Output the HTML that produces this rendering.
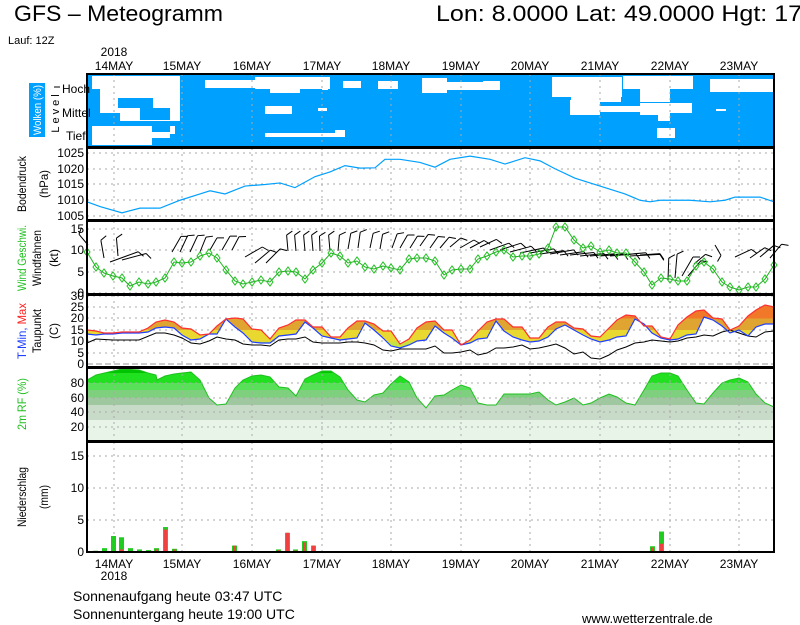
<!DOCTYPE html>
<html><head><meta charset="utf-8"><style>
html,body{margin:0;padding:0;background:#fff;width:800px;height:625px;overflow:hidden}
svg{display:block;font-family:"Liberation Sans",sans-serif}
</style></head><body>
<svg id="s" width="800" height="625" viewBox="0 0 800 625" xmlns="http://www.w3.org/2000/svg">
<defs>
<linearGradient id="tg" gradientUnits="userSpaceOnUse" x1="0" y1="296" x2="0" y2="364">
<stop offset="0" stop-color="#f07828"/><stop offset="0.33" stop-color="#f07828"/>
<stop offset="0.33" stop-color="#e0a430"/><stop offset="0.5" stop-color="#e0a430"/>
<stop offset="0.5" stop-color="#e8d830"/><stop offset="0.67" stop-color="#e8d830"/>
<stop offset="0.67" stop-color="#c8e040"/><stop offset="1" stop-color="#c8e040"/>
</linearGradient>
<linearGradient id="rg" gradientUnits="userSpaceOnUse" x1="0" y1="368" x2="0" y2="442">
<stop offset="0" stop-color="#00c400"/><stop offset="0.07" stop-color="#00c400"/>
<stop offset="0.07" stop-color="#20e020"/><stop offset="0.2" stop-color="#20e020"/>
<stop offset="0.2" stop-color="#58e058"/><stop offset="0.3" stop-color="#58e058"/>
<stop offset="0.3" stop-color="#7ed07e"/><stop offset="0.4" stop-color="#7ed07e"/>
<stop offset="0.4" stop-color="#a0c8a0"/><stop offset="0.5" stop-color="#a0c8a0"/>
<stop offset="0.5" stop-color="#c8dac8"/><stop offset="0.7" stop-color="#c8dac8"/>
<stop offset="0.7" stop-color="#e8f4e8"/><stop offset="1" stop-color="#e8f4e8"/>
</linearGradient>
</defs>
<text x="14" y="21" font-size="22" textLength="209" lengthAdjust="spacingAndGlyphs">GFS – Meteogramm</text>
<text x="436" y="21" font-size="22" textLength="380" lengthAdjust="spacingAndGlyphs">Lon: 8.0000 Lat: 49.0000 Hgt: 175</text>
<text x="8" y="44" font-size="11">Lauf: 12Z</text>
<g id="g"></g>
</svg>
<script>
const NS="http://www.w3.org/2000/svg",G=document.getElementById("g");
function el(t,a,txt){const e=document.createElementNS(NS,t);for(const k in a)e.setAttribute(k,a[k]);if(txt!==undefined)e.textContent=txt;G.appendChild(e);return e;}
const L=87,R=774;
const days=[[114,"14MAY"],[182,"15MAY"],[252,"16MAY"],[322,"17MAY"],[391,"18MAY"],[461,"19MAY"],[530,"20MAY"],[600,"21MAY"],[670,"22MAY"],[739,"23MAY"]];
el("rect",{x:L,y:74,width:R-L,height:73,fill:"#00a0ff"});
const cw=[[92,76,8,13],[100,76,80,45],[92,126,60,19],[152,132,18,6],[170,126,5,8],[205,80,60,8],[255,77,75,12],[270,89,30,4],[322,77,6,13],[265,106,27,8],[318,108,9,3],[265,133,70,4],[335,130,10,7],[343,81,18,7],[378,81,20,8],[422,78,25,15],[445,82,55,8],[483,81,17,8],[552,77,70,20],[571,96,50,6],[623,76,70,13],[640,88,30,14],[657,77,35,12],[570,100,30,15],[600,106,50,6],[640,103,30,12],[660,103,32,10],[658,114,12,7],[657,128,18,10],[710,79,63,13],[716,109,10,2]];
cw.forEach(r=>el("rect",{x:r[0],y:r[1],width:r[2],height:r[3],fill:"#fff"}));
[[118,98,35,10],[140,108,30,12],[100,113,20,8]].forEach(r=>el("rect",{x:r[0],y:r[1],width:r[2],height:r[3],fill:"#00a0ff"}));
function pts(a){return a.map(p=>p[0]+","+p[1]).join(" ");}
function hgrid(ys){ys.forEach(y=>el("line",{x1:L,x2:R,y1:y,y2:y,stroke:"#aaa","stroke-dasharray":"2,4"}));}
function vgrid(y1,y2){days.forEach(d=>el("line",{x1:d[0],x2:d[0],y1:y1,y2:y2,stroke:"#aaa","stroke-dasharray":"2,4"}));}
vgrid(74,147);
hgrid([153,169,184,200,216]);vgrid(148,220);
const P=[[87,1009.5],[100,1008],[122,1006],[140,1007.5],[160,1007.5],[180,1010],[200,1012],[210,1013],[225,1012],[245,1014.5],[265,1015],[280,1015.5],[295,1014],[315,1017.5],[330,1019],[345,1021],[360,1020.2],[375,1020.3],[385,1023],[400,1023],[420,1022],[435,1020.5],[450,1023],[470,1024],[490,1023],[505,1021.5],[525,1023.5],[540,1022.5],[555,1020],[575,1017],[600,1014.5],[625,1012],[640,1010],[650,1009.5],[660,1010],[690,1010],[710,1009.5],[725,1010],[735,1011],[760,1011],[774,1009.5]];
el("polyline",{points:pts(P.map(p=>[p[0],153+(1025-p[1])*3.15])),fill:"none",stroke:"#00a0ff","stroke-width":1.2});
hgrid([229,250,272,293]);vgrid(221,294);
const W=[[87,252],[96,267],[104,273],[113,276],[122,278],[130,286],[139,282],[148,284],[156,282],[165,278],[174,262],[182,263],[191,262],[200,256],[209,253],[217,258],[226,270],[235,281],[243,284],[252,282],[261,280],[270,282],[279,272],[288,271],[296,272],[305,279],[313,270],[322,263],[331,253],[340,256],[348,263],[357,261],[365,267],[374,269],[383,266],[391,268],[400,270],[409,259],[417,258],[426,258],[435,261],[444,275],[452,270],[461,269],[470,269],[478,259],[487,256],[496,252],[504,250],[513,257],[522,256],[530,256],[539,254],[548,248],[556,227],[565,227],[574,240],[583,248],[591,246],[600,252],[609,250],[617,253],[626,253],[635,262],[644,272],[652,285],[661,278],[670,279],[678,281],[687,281],[696,266],[704,262],[713,269],[722,282],[730,287],[739,290],[748,287],[756,287],[765,279],[774,265]];
function barb(x,y,ang,len){const a=ang*Math.PI/180,tx=x+Math.cos(a)*len,ty=y-Math.sin(a)*len;
 let d=`M${x},${y}L${tx},${ty}`;const fa=a-Math.PI/3;d+=`M${tx},${ty}L${tx+Math.cos(fa)*7},${ty-Math.sin(fa)*7}`;
 el("path",{d:d,stroke:"#000",fill:"none","stroke-width":1});}
const B=[[88,245,130,14],[104,258,100,18],[118,256,95,18],[110,262,20,30],[122,260,15,25],[172,252,60,18],[180,252,65,18],[190,252,65,18],[200,252,68,16],[210,250,60,14],[222,250,60,16],[232,250,62,15],[245,257,30,20],[255,263,40,20],[266,263,45,20],[288,251,95,16],[296,251,95,16],[305,251,95,16],[313,251,95,16],[320,251,92,15],[330,251,95,16],[338,251,85,16],[348,249,80,16],[358,248,82,16],[370,248,78,15],[380,249,80,15],[392,248,70,15],[400,248,60,15],[410,248,58,14],[420,246,55,14],[430,248,55,14],[440,248,50,14],[450,247,40,14],[460,248,30,16],[470,248,28,16],[480,247,25,18],[490,250,20,20],[500,250,18,22],[510,252,15,22],[520,253,12,24],[530,253,10,24],[540,254,8,24],[550,254,10,24],[560,255,8,24],[570,255,6,24],[580,256,6,24],[590,256,5,24],[600,256,5,24],[610,256,5,26],[620,255,5,26],[630,256,3,30],[640,255,4,20],[668,280,88,22],[675,278,85,24],[682,276,60,22],[688,276,50,20],[694,264,40,15],[715,245,-60,12],[735,257,25,18],[750,258,35,18],[760,257,40,18],[770,258,50,18]];
B.forEach(b=>barb(b[0],b[1],b[2],b[3]));
el("polyline",{points:pts(W),fill:"none",stroke:"#20b020","stroke-width":1});
W.forEach(p=>el("path",{d:`M${p[0]-3},${p[1]}L${p[0]},${p[1]-4}L${p[0]+3},${p[1]}L${p[0]},${p[1]+4}Z`,fill:"none",stroke:"#20c020","stroke-width":1}));
hgrid([296,307,318,330,341,353]);vgrid(295,367);
el("line",{x1:L,x2:R,y1:364,y2:364,stroke:"#999","stroke-dasharray":"6,3"});
const TR=[[87,330],[96,331],[104,333],[113,333],[122,332],[139,332],[148,328],[156,322],[165,320],[174,322],[182,328],[191,329],[200,335],[209,334],[217,326],[226,319],[235,318],[243,319],[252,329],[261,330],[270,339],[279,328],[288,325],[296,320],[305,320],[313,327],[322,327],[331,337],[340,337],[348,328],[357,321],[365,321],[374,324],[383,331],[391,331],[400,344],[409,339],[417,328],[426,322],[435,321],[444,330],[452,330],[461,345],[470,340],[478,331],[487,322],[496,319],[504,319],[513,327],[522,327],[530,338],[539,338],[548,327],[556,322],[565,322],[574,328],[583,329],[591,336],[600,337],[609,328],[617,320],[626,315],[635,316],[644,326],[652,326],[661,337],[670,339],[678,325],[687,317],[696,311],[704,310],[713,318],[722,319],[730,330],[739,326],[748,316],[756,310],[765,305],[774,307]];
const TB=[[87,334],[96,335],[104,334],[113,334],[122,333],[139,333],[148,332],[156,328],[165,327],[174,328],[182,335],[191,340],[200,339],[209,334],[217,334],[226,319],[235,327],[243,333],[252,342],[261,343],[270,343],[279,336],[288,335],[296,334],[305,322],[313,328],[322,336],[331,338],[340,340],[348,339],[357,338],[365,323],[374,330],[383,338],[391,346],[400,348],[409,345],[417,341],[426,340],[435,326],[444,333],[452,338],[461,345],[470,343],[478,339],[487,338],[496,321],[504,331],[513,337],[522,340],[530,342],[539,341],[548,337],[556,329],[565,325],[574,330],[583,335],[591,339],[600,342],[609,340],[617,337],[626,336],[635,319],[644,324],[652,333],[661,338],[670,340],[678,339],[687,335],[696,334],[704,317],[713,320],[722,326],[730,333],[739,330],[748,336],[756,327],[765,324],[774,324]];
const TD=[[87,343],[96,339],[113,340],[139,340],[156,333],[165,333],[174,335],[182,338],[191,343],[200,344],[209,341],[217,337],[226,339],[235,340],[243,344],[252,345],[261,345],[270,346],[279,340],[288,339],[296,339],[305,337],[313,342],[322,343],[331,343],[340,343],[348,342],[357,342],[365,343],[374,345],[383,350],[391,351],[400,349],[426,349],[435,346],[444,353],[452,353],[461,352],[470,350],[478,355],[487,353],[496,348],[504,348],[513,347],[522,345],[530,349],[539,348],[548,346],[556,344],[565,348],[574,354],[583,352],[591,358],[600,359],[609,355],[617,350],[626,347],[635,343],[644,342],[652,340],[661,341],[670,342],[678,341],[687,338],[696,337],[704,335],[713,336],[722,332],[730,330],[739,333],[748,336],[756,337],[765,332],[774,331]];
el("polygon",{points:pts(TR.concat(TB.slice().reverse())),fill:"url(#tg)"});
el("polyline",{points:pts(TD),fill:"none",stroke:"#000","stroke-width":1});
el("polyline",{points:pts(TB),fill:"none",stroke:"#2040ff","stroke-width":1.2});
el("polyline",{points:pts(TR),fill:"none",stroke:"#ff3030","stroke-width":1.2});
const RH=[[87,380],[96,375],[113,371],[122,369],[139,370],[148,373],[156,375],[157,380],[165,376],[174,374],[182,373],[191,372],[200,380],[209,398],[217,405],[226,404],[235,388],[243,380],[252,376],[261,375],[270,377],[279,387],[288,388],[296,396],[305,379],[313,375],[322,371],[331,371],[340,377],[348,390],[357,400],[365,402],[374,395],[383,393],[391,384],[400,376],[409,382],[417,398],[426,408],[435,396],[444,395],[452,390],[461,385],[470,388],[478,403],[487,405],[496,405],[504,394],[513,394],[522,394],[530,394],[539,392],[548,400],[556,405],[565,402],[574,398],[583,405],[591,403],[600,398],[609,394],[617,397],[626,403],[635,405],[644,390],[652,376],[661,373],[670,373],[678,376],[687,390],[696,403],[704,404],[713,393],[722,383],[730,380],[739,378],[748,382],[756,394],[765,403],[774,407]];
el("polygon",{points:pts([[87,441]].concat(RH,[[774,441]])),fill:"url(#rg)"});
el("polyline",{points:pts(RH),fill:"none",stroke:"#20c020","stroke-width":1});
hgrid([383,398,412,427]);vgrid(368,441);
hgrid([456,488,520]);vgrid(442,552);
const PR=[[93,0.2,0],[102,0.6,0],[111,2.5,0],[119,2.3,0.4],[128,0.6,0],[137,0.4,0],[146,0.3,0],[154,0.6,0.4],[163,3.9,3.5],[172,0.5,0.4],[232,1.0,1.0],[276,0.4,0.3],[285,3.0,3.0],[293,0.4,0.2],[302,1.7,1.5],[311,1.0,1.0],[650,0.9,0.7],[659,3.2,1.3]];
PR.forEach(p=>{el("rect",{x:p[0],y:552-p[1]*6.4,width:5,height:p[1]*6.4,fill:"#20cc20"});if(p[2])el("rect",{x:p[0]+1,y:552-p[2]*6.4,width:3,height:p[2]*6.4,fill:"#f04040"});});
[[74,147],[148,220],[221,294],[295,367],[368,441],[442,552]].forEach(f=>el("rect",{x:L,y:f[0],width:R-L,height:f[1]-f[0],fill:"none",stroke:"#000","stroke-width":2}));
function yl(x,y,t,c){el("text",{x:x,y:y+4,"font-size":12,"text-anchor":"end",fill:c||"#000"},t);}
[[153,"1025"],[169,"1020"],[184,"1015"],[200,"1010"],[216,"1005"]].forEach(a=>yl(84,a[0],a[1]));
[[229,"15"],[250,"10"],[272,"5"],[293,"0"]].forEach(a=>yl(84,a[0],a[1]));
[[296,"30"],[307,"25"],[318,"20"],[330,"15"],[341,"10"],[353,"5"],[364,"0"]].forEach(a=>yl(84,a[0],a[1]));
[[383,"80"],[398,"60"],[412,"40"],[427,"20"]].forEach(a=>yl(84,a[0],a[1]));
[[456,"15"],[488,"10"],[520,"5"],[552,"0"]].forEach(a=>yl(84,a[0],a[1]));
el("text",{x:62,y:93,"font-size":12},"Hoch");el("text",{x:62,y:117,"font-size":12},"Mittel");el("text",{x:66,y:140,"font-size":12},"Tief");
el("line",{x1:54,x2:60,y1:87,y2:87,stroke:"#000"});
function rl(x,y,t,c,fs,tl){const a={x:0,y:0,"font-size":fs||12,"text-anchor":"middle",fill:c||"#000",transform:`translate(${x},${y}) rotate(-90)`};if(tl){a.textLength=tl;a.lengthAdjust="spacingAndGlyphs";}return el("text",a,t);}
el("rect",{x:29,y:83,width:16,height:54,fill:"#00a0ff"});
rl(41,110,"Wolken (%)","#fff",11,50);
el("text",{x:0,y:0,"font-size":11,"text-anchor":"middle","letter-spacing":"3",transform:"translate(59,112) rotate(-90)"},"Level");
rl(26,184,"Bodendruck","#000",12,56);rl(48,184,"(hPa)","#000",12,28);
rl(26,258,"Wind Geschwi.","#20c020",12,66);rl(41,258,"Windfahnen","#000",12,56);rl(58,258,"(kt)","#000",12,18);
const tt=el("text",{x:0,y:0,"font-size":12,"text-anchor":"middle",textLength:56,lengthAdjust:"spacingAndGlyphs",transform:"translate(26,331) rotate(-90)"});
tt.innerHTML='<tspan fill="#2040ff">T-Min, </tspan><tspan fill="#ff2020">Max</tspan>';
rl(41,331,"Taupunkt","#000",12,44);rl(58,331,"(C)","#000",12,16);
rl(26,404,"2m RF (%)","#20c020",12,52);
rl(26,497,"Niederschlag","#000",12,60);rl(48,497,"(mm)","#000",12,24);
days.forEach(d=>{el("text",{x:d[0],y:70,"font-size":12,"text-anchor":"middle"},d[1]);el("text",{x:d[0],y:568,"font-size":12,"text-anchor":"middle"},d[1]);});
el("text",{x:114,y:56,"font-size":12,"text-anchor":"middle"},"2018");
el("text",{x:114,y:580,"font-size":12,"text-anchor":"middle"},"2018");
el("text",{x:73,y:601,"font-size":14},"Sonnenaufgang heute 03:47 UTC");
el("text",{x:73,y:619,"font-size":14},"Sonnenuntergang heute 19:00 UTC");
el("text",{x:582,y:623,"font-size":13},"www.wetterzentrale.de");
</script>
</body></html>
